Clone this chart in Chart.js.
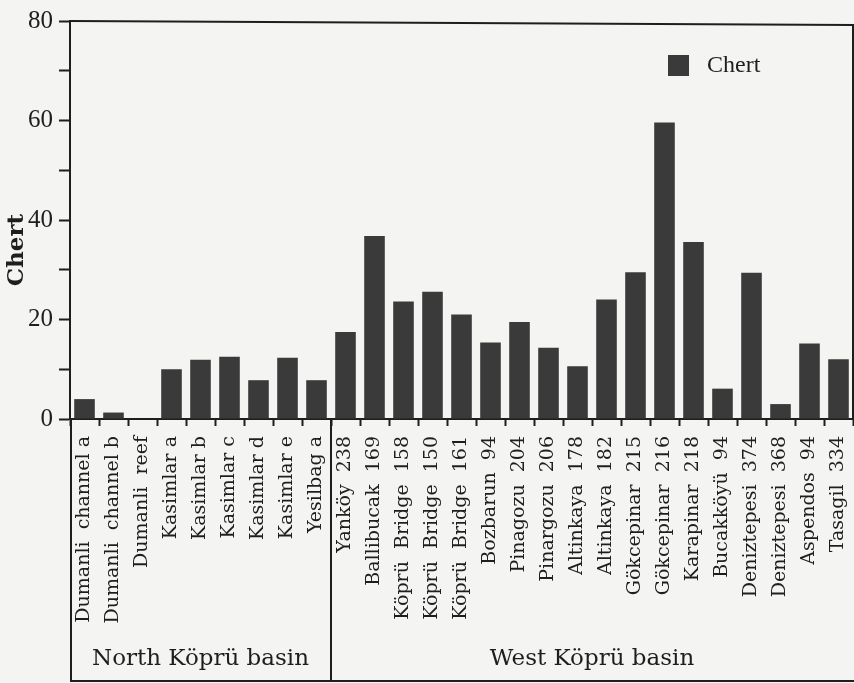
<!DOCTYPE html>
<html lang="en">
<head>
    <meta charset="UTF-8">
    <title>Chert by locality</title>
    <script src="https://cdn.jsdelivr.net/npm/chart.js"></script>
    <style>
        body { margin: 0; background: #f4f4f2; overflow: hidden; }
        #chart-container { width: 854px; height: 683px; }
    </style>
</head>
<body>
    <div id="chart-container">
        <canvas id="chertChart" width="854" height="683"></canvas>
    </div>

    <script>
        // Sample localities (x axis)
        const localities = [
            'Dumanli  channel a', 'Dumanli  channel b', 'Dumanli  reef',
            'Kasimlar a', 'Kasimlar b', 'Kasimlar c', 'Kasimlar d', 'Kasimlar e', 'Yesilbag a',
            'Yanköy  238', 'Ballibucak  169', 'Köprü  Bridge  158', 'Köprü  Bridge  150',
            'Köprü  Bridge  161', 'Bozbarun  94', 'Pinagozu  204', 'Pinargozu  206',
            'Altinkaya  178', 'Altinkaya  182', 'Gökcepinar  215', 'Gökcepinar  216',
            'Karapinar  218', 'Bucakköyü  94', 'Deniztepesi  374', 'Deniztepesi  368',
            'Aspendos  94', 'Tasagil  334'
        ];

        // Chert values
        const chertValues = [
            4.0, 1.3, 0,
            10.0, 11.9, 12.5, 7.8, 12.3, 7.8,
            17.5, 36.8, 23.6, 25.6, 21.0, 15.4, 19.5, 14.3,
            10.6, 24.0, 29.5, 59.6, 35.6, 6.1, 29.4, 3.0, 15.2, 12.0
        ];

        // Basin groups under the axis
        const groupNames = ['North Köprü basin', 'West Köprü basin'];
        const groupSizes = [9, 18];

        const yTicks = [0, 20, 40, 60, 80];
        const barColor = '#3a3a3a';
        const inkColor = '#1e1e1e';

        // Draws background, frame, basin boxes, legend and axis title
        const extrasPlugin = {
            id: 'extras',
            beforeDraw(chart) {
                const ctx = chart.ctx;
                ctx.save();
                ctx.fillStyle = '#f4f4f2';
                ctx.fillRect(0, 0, chart.width, chart.height);
                ctx.restore();
            },
            afterDraw(chart) {
                const ctx = chart.ctx;
                const area = chart.chartArea;
                const x = chart.scales.x;
                const bottom = chart.height - 2;

                ctx.save();
                ctx.strokeStyle = inkColor;
                ctx.lineWidth = 2;

                // top and right frame
                ctx.beginPath();
                ctx.moveTo(area.left, area.top);
                ctx.lineTo(chart.width, area.top + 4);
                ctx.moveTo(area.right, area.top + 4);
                ctx.lineTo(area.right, area.bottom);
                ctx.stroke();

                // basin boxes
                ctx.beginPath();
                ctx.moveTo(area.left + 1, area.bottom);
                ctx.lineTo(area.left + 1, bottom);
                ctx.lineTo(chart.width, bottom);
                ctx.stroke();

                let start = 0;
                ctx.fillStyle = inkColor;
                ctx.font = '23px "DejaVu Serif"';
                ctx.textAlign = 'center';
                ctx.textBaseline = 'alphabetic';
                groupNames.forEach((name, i) => {
                    const end = start + groupSizes[i];
                    const left = start === 0 ? area.left : (x.getPixelForTick(start - 1) + x.getPixelForTick(start)) / 2;
                    const right = end >= localities.length ? area.right : (x.getPixelForTick(end - 1) + x.getPixelForTick(end)) / 2;
                    if (start > 0) {
                        ctx.beginPath();
                        ctx.moveTo(left, area.bottom);
                        ctx.lineTo(left, bottom);
                        ctx.stroke();
                    }
                    ctx.fillText(name, (left + right) / 2, 665);
                    start = end;
                });

                // legend
                const ds = chart.data.datasets[0];
                ctx.fillStyle = ds.backgroundColor;
                ctx.fillRect(668, 55, 21, 21);
                ctx.fillStyle = inkColor;
                ctx.font = '24px "Liberation Serif"';
                ctx.textAlign = 'left';
                ctx.textBaseline = 'middle';
                ctx.fillText(ds.label, 707, 66);

                // y axis title
                ctx.translate(17, 250);
                ctx.rotate(-Math.PI / 2);
                ctx.font = 'bold 23px "DejaVu Serif"';
                ctx.textAlign = 'center';
                ctx.fillText('Chert', 0, 0);
                ctx.restore();
            }
        };

        const ctx = document.getElementById('chertChart').getContext('2d');

        new Chart(ctx, {
            type: 'bar',
            data: {
                labels: localities,
                datasets: [{
                    label: 'Chert',
                    data: chertValues,
                    backgroundColor: barColor,
                    borderWidth: 0,
                    categoryPercentage: 1.0,
                    barPercentage: 0.71
                }]
            },
            options: {
                responsive: false,
                animation: false,
                layout: { padding: { top: 16, left: 0, right: 1, bottom: 0 } },
                plugins: {
                    legend: { display: false },
                    tooltip: { enabled: false }
                },
                scales: {
                    x: {
                        afterFit(scale) {
                            scale.height = 264;
                            scale.paddingLeft = 0;
                            scale.paddingRight = 0;
                        },
                        grid: {
                            offset: true,
                            drawOnChartArea: false,
                            tickLength: 7,
                            tickWidth: 2,
                            tickColor: inkColor
                        },
                        border: { color: inkColor, width: 2 },
                        ticks: {
                            autoSkip: false,
                            minRotation: 90,
                            maxRotation: 90,
                            padding: 10,
                            color: inkColor,
                            font: { family: 'DejaVu Serif', size: 19 }
                        }
                    },
                    y: {
                        min: 0,
                        max: 80,
                        afterFit(scale) { scale.width = 70; },
                        grid: {
                            drawOnChartArea: false,
                            tickLength: 11,
                            tickWidth: 2,
                            tickColor: inkColor
                        },
                        border: { color: inkColor, width: 2 },
                        ticks: {
                            stepSize: 10,
                            padding: 6,
                            color: inkColor,
                            font: { family: 'Liberation Serif', size: 25 },
                            callback: (v) => yTicks.includes(v) ? v : ''
                        }
                    }
                }
            },
            plugins: [extrasPlugin]
        });
    </script>
</body>
</html>
